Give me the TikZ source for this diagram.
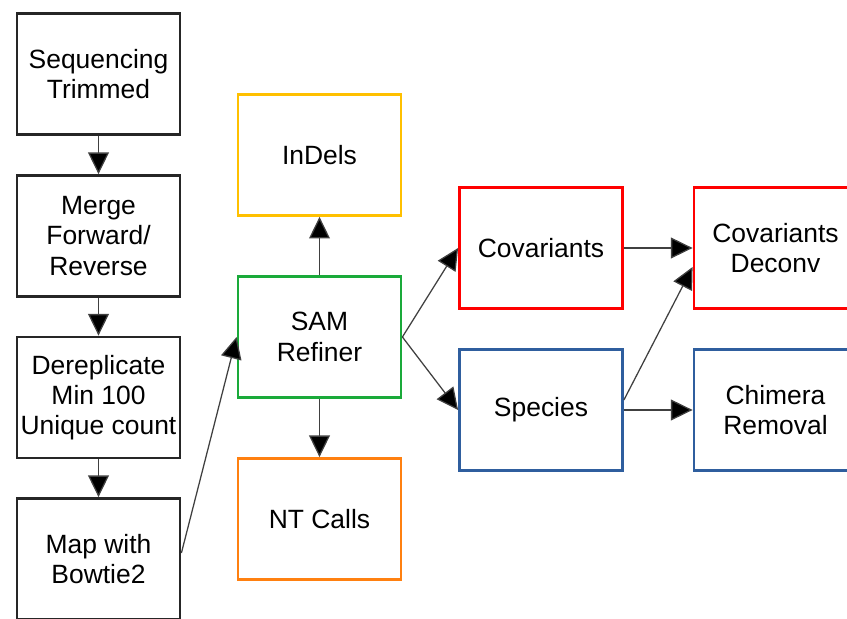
\documentclass[tikz,border=0pt]{standalone}
\usepackage{fontspec}
\setmainfont{Liberation Sans}
\usepackage{tikz}
\usetikzlibrary{arrows.meta,calc,positioning}
\definecolor{StepYellow}{HTML}{FFC000}
\definecolor{StepGreen}{HTML}{1AAA3A}
\definecolor{StepOrange}{HTML}{FF8010}
\definecolor{StepRed}{HTML}{FF0000}
\definecolor{StepBlue}{HTML}{2F5E9E}

\begin{document}
\begin{tikzpicture}[x=1cm,y=1cm,>={Triangle[length=5.4mm,width=5.2mm,fill=black]},
 box/.style={draw=black!85,line width=2pt,fill=white,
 minimum width=4.075cm,minimum height=3.025cm,align=center,inner sep=1pt},
 link/.style={->,line width=.9pt,draw=black!75},
 every node/.style={font=\fontsize{18.8}{21.5}\selectfont}]
 \useasboundingbox (0,0) rectangle (21.175,15.475);
 \clip (0,0) rectangle (21.175,15.475);
 % read processing column
 \node[box] (seq) at (2.4625,13.625) {Sequencing\\Trimmed};
 \node[box] (merge) at (2.4625,9.575) {Merge\\Forward/\\Reverse};
 \node[box] (derep) at (2.4625,5.5375) {Dereplicate\\Min 100\\Unique count};
 \node[box] (map) at (2.4625,1.5) {Map with\\Bowtie2};
 % SAM Refiner and its outputs
 \node[box,draw=StepYellow] (indels) at (7.9875,11.6) {InDels};
 \node[box,draw=StepGreen] (sam) at (7.9875,7.05) {SAM\\Refiner};
 \node[box,draw=StepOrange] (nt) at (7.9875,2.5) {NT Calls};
 \node[box,draw=StepRed] (cov) at (13.525,9.275) {Covariants};
 \node[box,draw=StepBlue] (species) at (13.525,5.225) {Species};
 \node[box,draw=StepRed] (deconv) at (19.3875,9.275) {Covariants\\Deconv};
 \node[box,draw=StepBlue] (chimera) at (19.3875,5.225) {Chimera\\Removal};
 \draw[link] (seq)--(merge);
 \draw[link] (merge)--(derep);
 \draw[link] (derep)--(map);
 \draw[link] ($(map.east)+(0,0.15)$)--(sam.west);
 \draw[link] (sam)--(indels);
 \draw[link] (sam)--(nt);
 \draw[link] (sam.east)--(cov.west);
 \draw[link] (sam.east)--(species.west);
 \draw[link] (cov)--(deconv);
 \draw[link] (species)--(chimera);
 \draw[link] ($(species.east)+(0,0.25)$)--($(deconv.west)+(0,-0.475)$);
\end{tikzpicture}
\end{document}
